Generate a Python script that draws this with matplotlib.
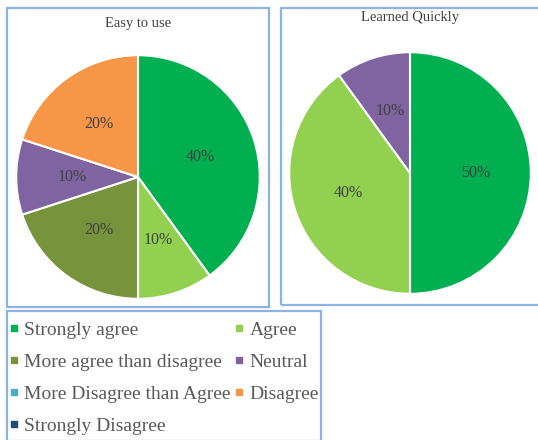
import matplotlib.pyplot as plt
from matplotlib.patches import Rectangle
from matplotlib.lines import Line2D

categories = ['Strongly agree', 'Agree', 'More agree than disagree', 'Neutral',
              'More Disagree than Agree', 'Disagree', 'Strongly Disagree']
colors = ['#00B050', '#92D050', '#77933C', '#8064A2', '#4BACC6', '#F79646', '#1F497D']
easy_to_use = [40, 10, 20, 10, 0, 20, 0]
learned_quickly = [50, 40, 0, 10, 0, 0, 0]

W, H = 538, 440
plt.rcParams['font.family'] = ['Liberation Serif', 'DejaVu Serif']
fig = plt.figure(figsize=(W / 100, H / 100), dpi=100)
border = '#8DB3E2'


def px_rect(x0, y0, x1, y1):
    return [x0 / W, 1 - y1 / H, (x1 - x0) / W, (y1 - y0) / H]


# panel boxes
for x0, y0, x1, y1 in [(7, 8, 269, 307), (281, 8, 541, 305), (7, 311, 321, 441)]:
    r = px_rect(x0, y0, x1, y1)
    fig.patches.append(Rectangle((r[0], r[1]), r[2], r[3], transform=fig.transFigure,
                                 fill=False, edgecolor=border, linewidth=1.6))


def draw_pie(vals, cx, cy, rad, title, tx, ty):
    ax = fig.add_axes(px_rect(cx - rad, cy - rad, cx + rad, cy + rad))
    v = [x for x in vals if x > 0]
    c = [col for x, col in zip(vals, colors) if x > 0]
    ax.pie(v, colors=c, startangle=90, counterclock=False, radius=1,
           autopct='%d%%', pctdistance=0.54,
           wedgeprops=dict(edgecolor='white', linewidth=1.5),
           textprops=dict(color='#404040', fontsize=11.5))
    ax.set_xlim(-1.01, 1.01)
    ax.set_ylim(-1.01, 1.01)
    ax.set_aspect('equal')
    fig.text(tx / W, 1 - ty / H, title, ha='center', va='center',
             fontsize=10.5, color='#404040')


draw_pie(easy_to_use, 138, 177, 123, 'Easy to use', 138, 23)
draw_pie(learned_quickly, 410, 173, 122, 'Learned Quickly', 410, 17)

# legend, filled column-first so rows read left to right
order = [0, 2, 4, 6, 1, 3, 5]
handles = [Line2D([], [], marker='s', linestyle='none', markersize=5,
                  color=colors[i], label=categories[i]) for i in order]
fig.legend(handles=handles, ncol=2, loc='upper left',
           bbox_to_anchor=(7 / W, 1 - 319 / H), frameon=False,
           fontsize=14, labelcolor='#595959', handlelength=0.5,
           handletextpad=0.3, columnspacing=0.15, labelspacing=0.75,
           borderpad=0.1, borderaxespad=0)

fig.savefig('out.png', dpi=100)
